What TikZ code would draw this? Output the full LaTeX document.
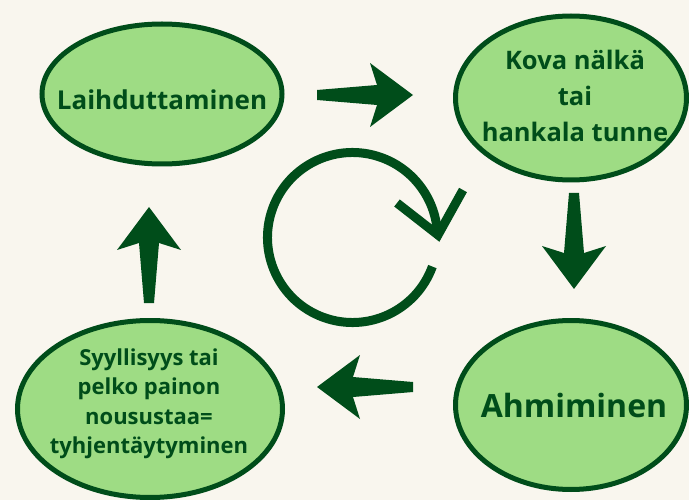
\documentclass[tikz,border=0pt]{standalone}
\usepackage{fontspec}
\setmainfont{Open Sans}
\usetikzlibrary{shapes}
\definecolor{cream}{HTML}{F9F6EE}
\definecolor{leaf}{HTML}{9EDC84}
\definecolor{forest}{HTML}{004D1A}
\tikzstyle{blob} = [draw=forest, fill=leaf, ellipse, line width=5pt, inner sep=0pt]
\tikzstyle{word} = [text=forest, font=\bfseries, align=center, inner sep=0pt]
\tikzset{bigarrow/.pic={\fill[forest] (-48,-5) -- (12,-10) -- (5,-32) -- (48,0) -- (5,32) -- (12,10) -- (-48,5) -- cycle;}}

\begin{document}
\begin{tikzpicture}[x=1pt,y=-1pt]
\fill[cream] (0,0) rectangle (689,500);
\useasboundingbox (0,0) rectangle (689,500);

\node[blob, minimum width=240, minimum height=140] (laih) at (162,94) {};
\node[blob, minimum width=231, minimum height=164] (kova) at (571,98) {};
\node[blob, minimum width=231, minimum height=169] (ahmi) at (571,405) {};
\node[blob, minimum width=265, minimum height=177] (syyl) at (150,409) {};

\node[word, font=\bfseries\fontsize{26}{26}\selectfont] (laihtxt) at (162,100) {Laihduttaminen};
\node[word, font=\bfseries\fontsize{25.5}{36}\selectfont] (kovatxt) at (575,96) {Kova nälkä\\tai\\hankala tunne};
\node[word, font=\bfseries\fontsize{32}{32}\selectfont] (ahmitxt) at (574,405) {Ahmiminen};
\node[word, font=\bfseries\fontsize{22}{29.5}\selectfont] (syyltxt) at (149,404) {Syyllisyys tai\\pelko painon\\nousustaa=\\tyhjentäytyminen};

\coordinate (right) at (365,95);
\coordinate (down) at (574,241);
\coordinate (left) at (365,387);
\coordinate (up) at (149,255);
\pic at (right) {bigarrow};
\pic[rotate=-90] at (down) {bigarrow};
\pic[rotate=180] at (left) {bigarrow};
\pic[rotate=90] at (up) {bigarrow};

\coordinate (mid) at (352.5,237.5);
\coordinate (tip) at (438,235);
\draw[forest, line width=9pt] (mid) ++(20:85) arc[start angle=20, end angle=358, radius=85];
\draw[forest, line width=9pt, miter limit=10] (tip) ++(-41,-32) -- (tip) -- ++(25,-45);
\end{tikzpicture}
\end{document}
